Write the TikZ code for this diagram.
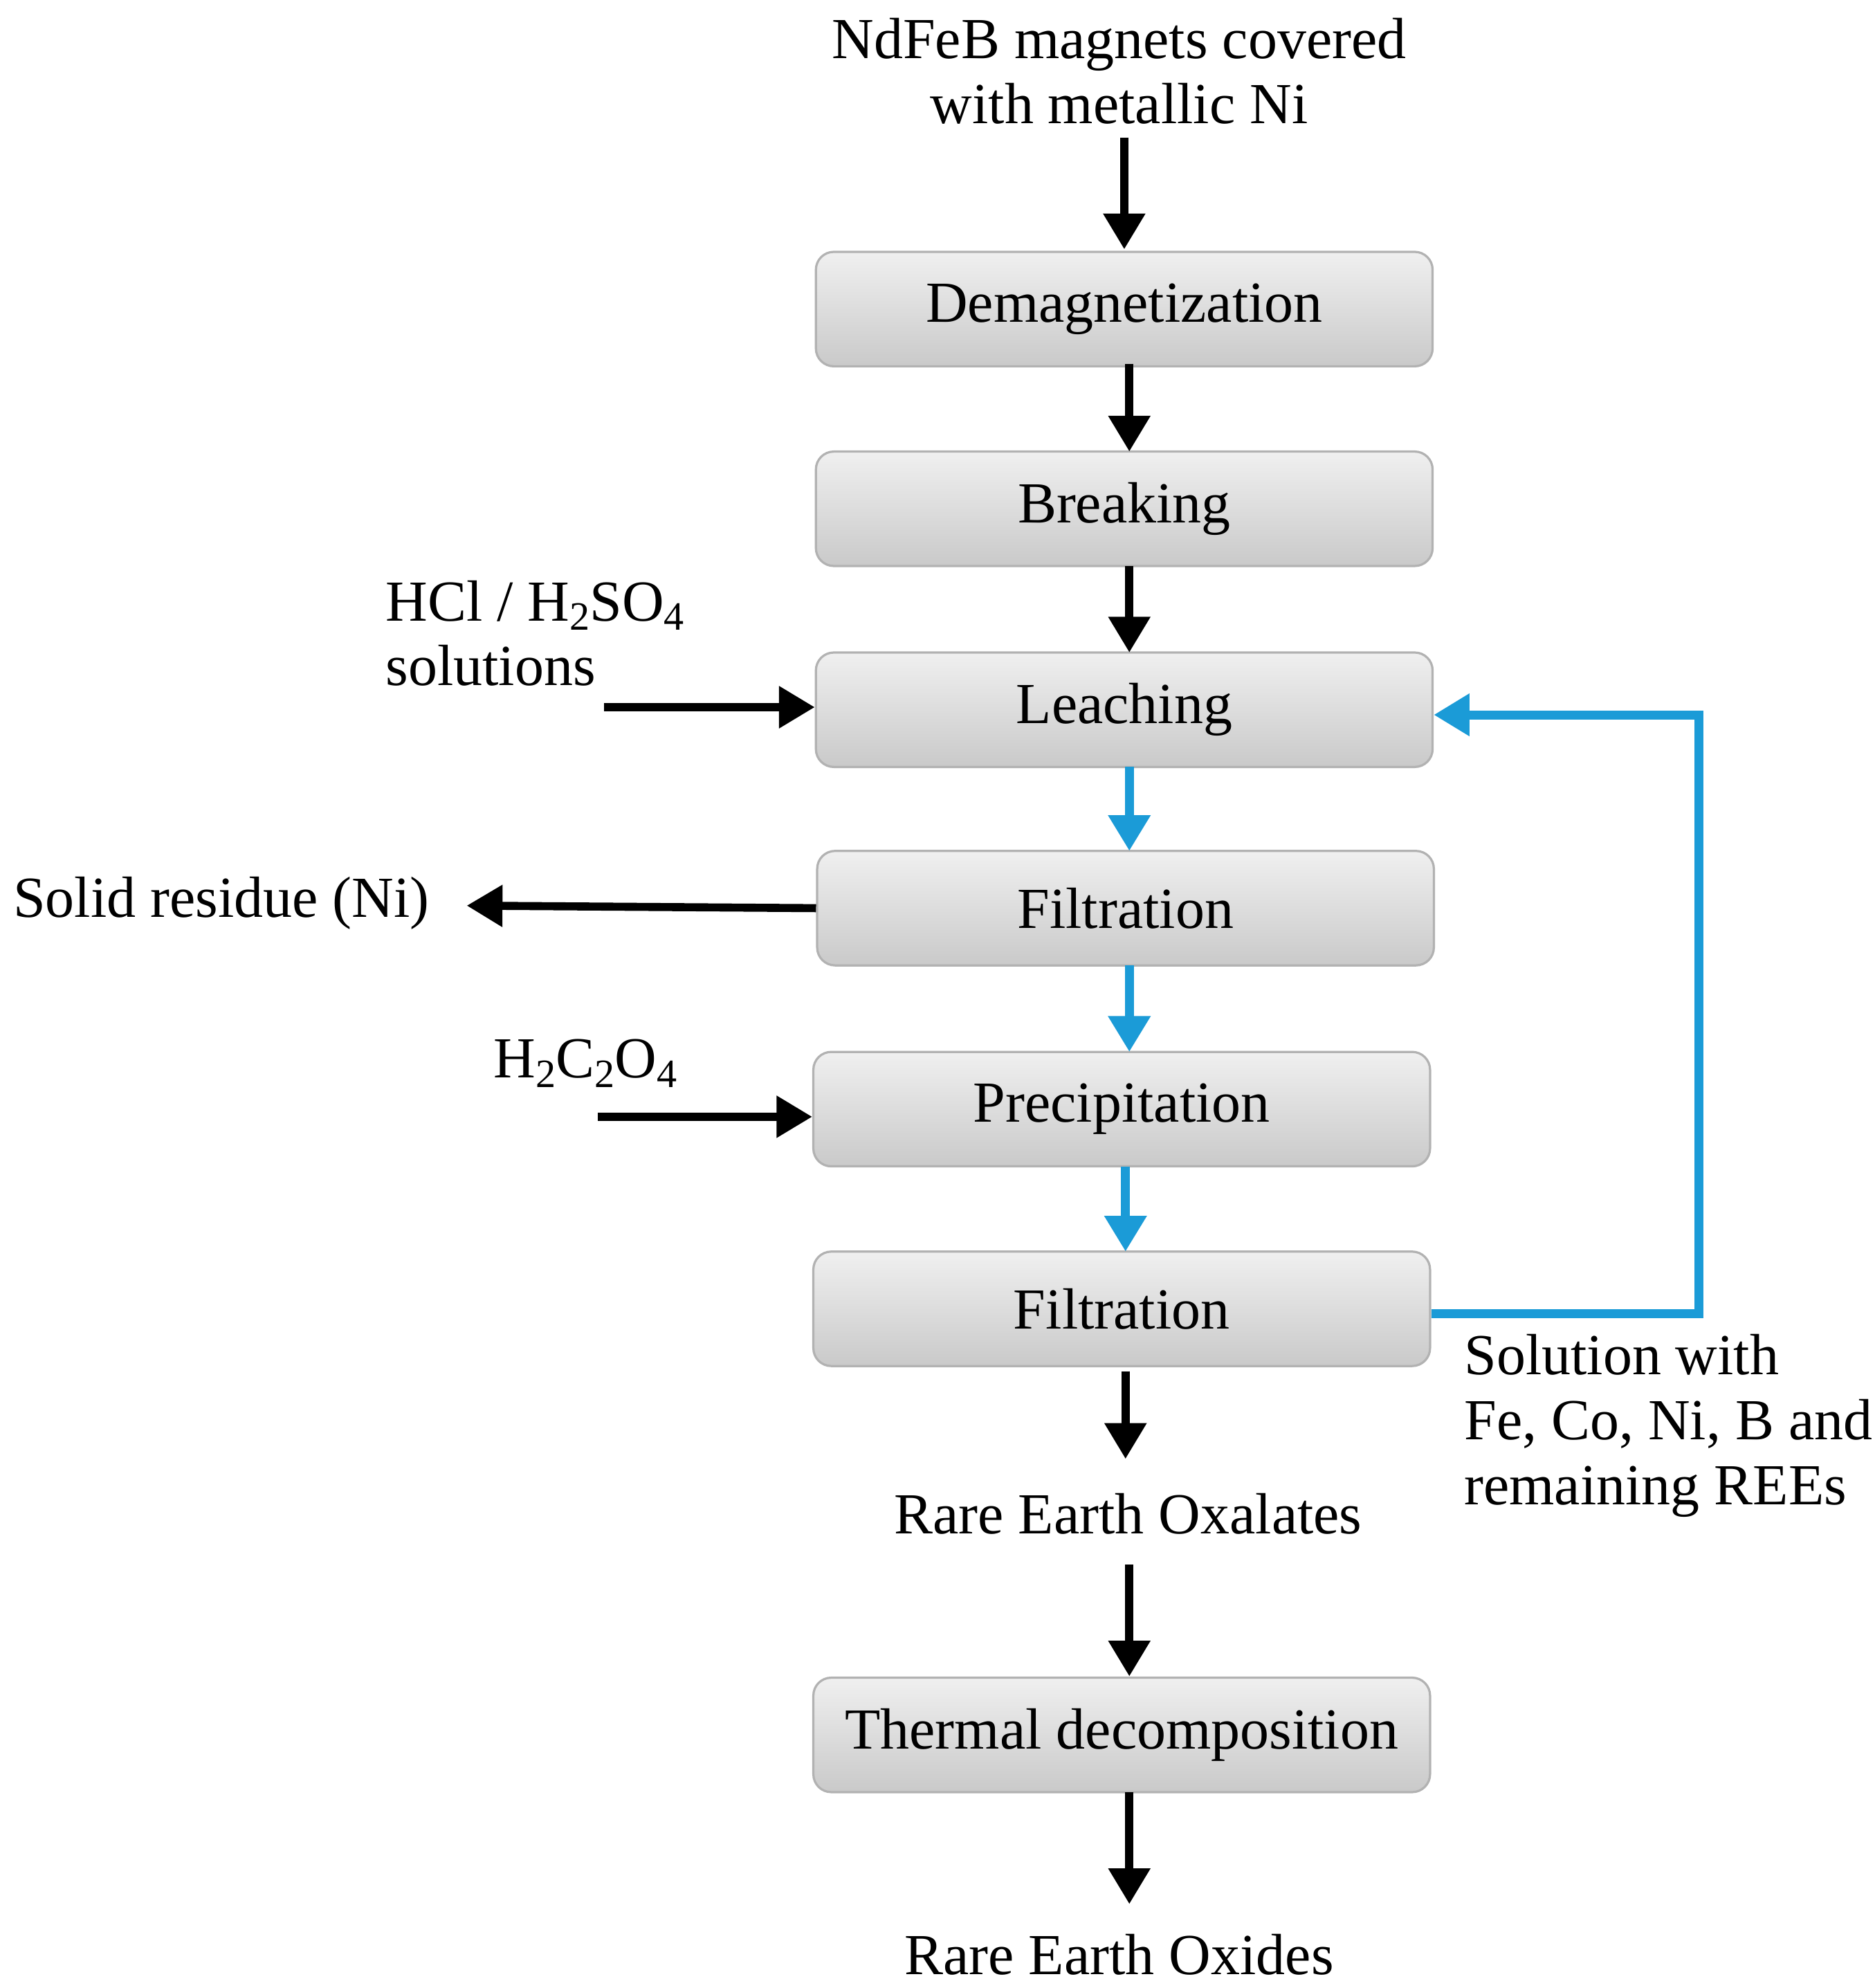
\documentclass[tikz,border=0pt]{standalone}
\usepackage{fontspec}
\setmainfont{Liberation Serif}
\usetikzlibrary{arrows.meta}
\definecolor{lblue}{RGB}{27,155,215}
\newcommand{\sbs}[1]{\raisebox{-0.35ex}{\fontsize{18}{20}\selectfont #1}}
\begin{document}
\begin{tikzpicture}[x=0.02cm,y=-0.02cm,
  box/.style={draw=gray!60,line width=1pt,rounded corners=8pt,top color=gray!12,bottom color=gray!42,minimum width=9.7cm,minimum height=1.8cm,font=\fontsize{26}{29}\selectfont,inner sep=0pt},
  lbl/.style={font=\fontsize{26}{29}\selectfont,inner sep=0pt},
  arr/.style={line width=3.6pt,-{Triangle[length=16pt,width=18pt]}},
  barr/.style={arr,draw=lblue,line width=4pt}]
\useasboundingbox (0,0) rectangle (1474,1563);
\node[lbl,align=center] (top) at (880,56) {NdFeB magnets covered\\with metallic Ni};
\node[box] (dem) at (884,243) {Demagnetization};
\node[box] (brk) at (884,400) {Breaking};
\node[box] (lea) at (884,558) {Leaching};
\node[box] (fil1) at (885,714) {Filtration};
\node[box] (pre) at (882,872) {Precipitation};
\node[box] (fil2) at (882,1029) {Filtration};
\node[lbl] (reo) at (887,1190) {Rare Earth Oxalates};
\node[box] (thd) at (882,1364) {Thermal decomposition};
\node[lbl] (reox) at (880,1537) {Rare Earth Oxides};
\node[lbl,align=left,anchor=west] (hcl) at (303,498) {HCl / H\sbs{2}SO\sbs{4}\\solutions};
\node[lbl,anchor=west] (sol) at (10,710) {Solid residue (Ni)};
\node[lbl,anchor=west] (ox) at (388,836) {H\sbs{2}C\sbs{2}O\sbs{4}};
\node[lbl,align=left,anchor=west] (solw) at (1151,1121) {Solution with\\Fe, Co, Ni, B and\\remaining REEs};
\coordinate (a1) at (884,108); \coordinate (a2) at (884,196);
\draw[arr] (a1) -- (a2);
\draw[arr] (888,286) -- (888,355);
\draw[arr] (888,445) -- (888,513);
\draw[barr] (888,603) -- (888,669);
\draw[barr] (888,759) -- (888,827);
\draw[barr] (885,917) -- (885,984);
\draw[arr] (885,1078) -- (885,1147);
\draw[arr] (888,1230) -- (888,1318);
\draw[arr] (888,1409) -- (888,1497);
\coordinate (h1) at (475,556); \draw[arr] (h1) -- (lea.west |- h1);
\coordinate (s1) at (367,712); \draw[arr] (fil1.west) -- (s1);
\coordinate (o1) at (470,878); \draw[arr] (o1) -- (pre.west |- o1);
\draw[barr] (fil2.east |- 0,1033) -- (1336,1033) -- (1336,562) -- (lea.east |- 0,562);
\end{tikzpicture}
\end{document}
